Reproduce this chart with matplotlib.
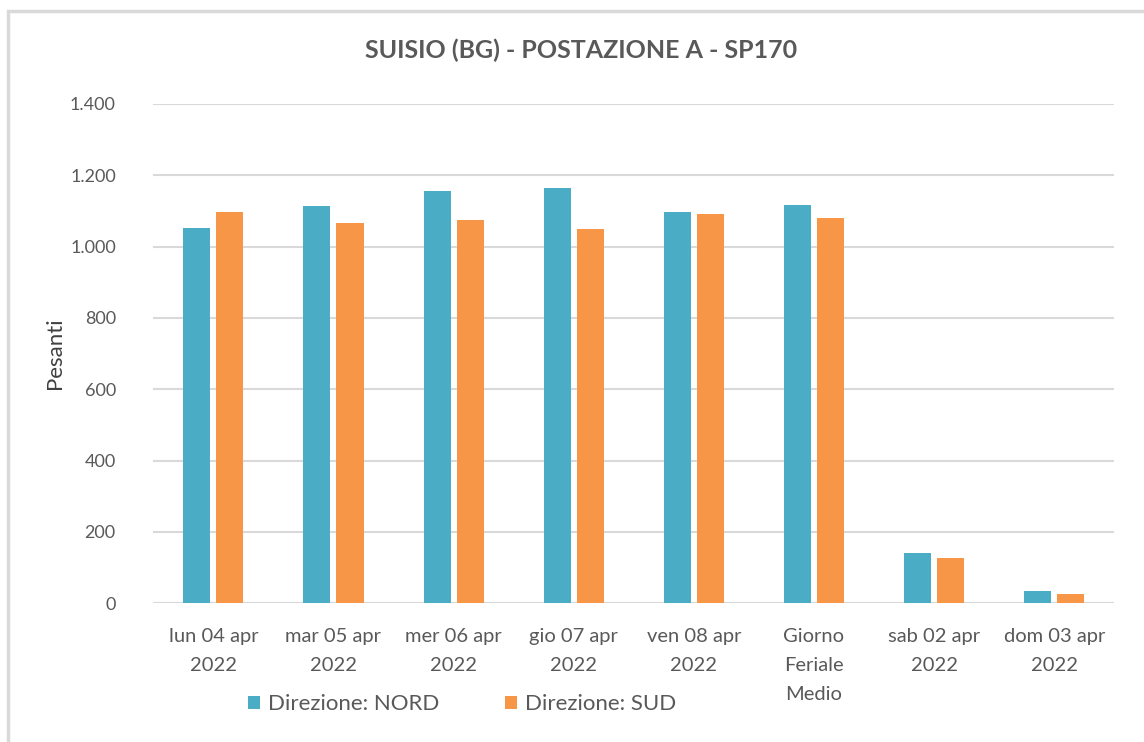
import numpy as np
import matplotlib
matplotlib.use("Agg")
import matplotlib.pyplot as plt
from matplotlib.patches import Rectangle
from matplotlib.ticker import FuncFormatter

# Dati
categorie = ["lun 04 apr\n2022", "mar 05 apr\n2022", "mer 06 apr\n2022",
             "gio 07 apr\n2022", "ven 08 apr\n2022", "Giorno\nFeriale\nMedio",
             "sab 02 apr\n2022", "dom 03 apr\n2022"]
nord = [1053, 1113, 1157, 1165, 1098, 1117, 140, 33]
sud = [1098, 1065, 1075, 1049, 1091, 1080, 126, 26]
serie = ["Direzione: NORD", "Direzione: SUD"]
titolo = "SUISIO (BG) - POSTAZIONE A - SP170"
etichetta_y = "Pesanti"

plt.rcParams["font.family"] = ["Lato", "DejaVu Sans"]
grigio = "#595959"

fig = plt.figure(figsize=(11.44, 7.42), dpi=100)
ax = fig.add_axes([0.134, 0.187, 0.840, 0.673])

x = np.arange(len(categorie))
w = 0.225
ax.bar(x - 0.1375, nord, width=w, color="#4BACC6", label=serie[0], zorder=3)
ax.bar(x + 0.1375, sud, width=w, color="#F79646", label=serie[1], zorder=3)

ax.set_xlim(-0.5, len(categorie) - 0.5)
ax.set_ylim(0, 1400)
ax.set_yticks(range(0, 1401, 200))
ax.yaxis.set_major_formatter(FuncFormatter(lambda v, p: f"{int(v):,}".replace(",", ".")))
ax.grid(axis="y", color="#D9D9D9", lw=1.5, zorder=0)
ax.set_axisbelow(True)
for s in ax.spines.values():
    s.set_visible(False)
ax.axhline(0, color="#D9D9D9", lw=1.5, zorder=2)

ax.set_xticks(x)
ax.set_xticklabels(categorie, linespacing=1.85, va="top")
ax.tick_params(axis="x", length=0, pad=18, labelsize=14.5, labelcolor=grigio)
ax.tick_params(axis="y", length=0, pad=27, labelsize=13, labelcolor=grigio)

ax.set_ylabel(etichetta_y, fontsize=16, color="#404040")
ax.yaxis.set_label_coords(-0.0916, 0.5)
fig.text(0.508, 0.932, titolo, ha="center", va="center", fontsize=18,
         fontweight="bold", color=grigio)

ax.legend(loc="upper center", bbox_to_anchor=(0.321, -0.142), ncol=2, frameon=False,
          fontsize=16, labelcolor=grigio, handlelength=0.55, handleheight=0.55,
          handletextpad=0.35, columnspacing=2.95)

fig.patches.append(Rectangle((8 / 1144, -0.01), 1.1, 1 - 11 / 742 + 0.01,
                             transform=fig.transFigure, fill=False,
                             edgecolor="#D9D9D9", lw=2.5))

fig.savefig("out.png", dpi=100)
